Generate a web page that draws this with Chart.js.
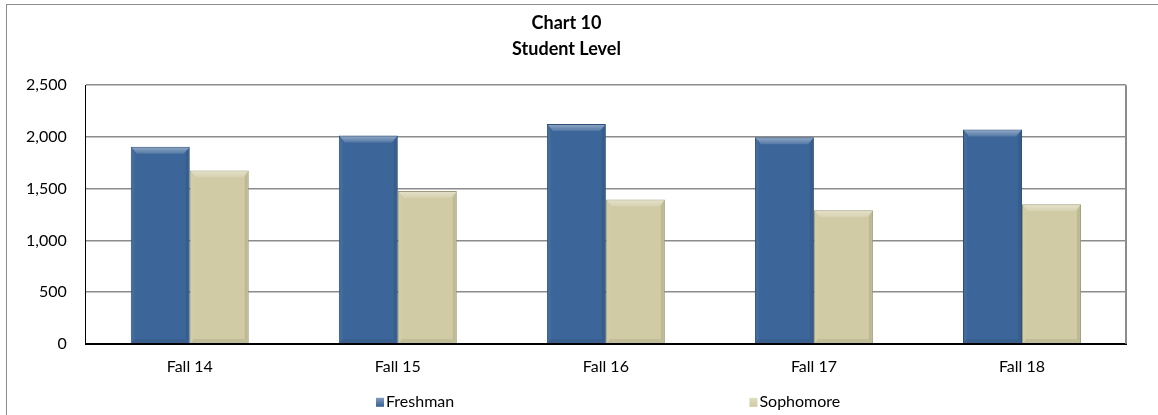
<!DOCTYPE html>
<html>
<head>
<meta charset="utf-8">
<script src="https://cdn.jsdelivr.net/npm/chart.js@4.4.0/dist/chart.umd.min.js"></script>
<style>
  html, body { margin: 0; padding: 0; background: #fff; overflow: hidden; }
  #frame {
    position: absolute; left: 6px; top: 4px;
    width: 1164px; height: 420px;
    border: 1px solid #8c8c8c; box-sizing: border-box; background: #fff;
  }
  #box { position: absolute; left: 0; top: 0; width: 1162px; height: 418px; }
</style>
</head>
<body>
<div id="frame"><div id="box"><canvas id="myChart"></canvas></div></div>
<script>
var categories = ["Fall 14", "Fall 15", "Fall 16", "Fall 17", "Fall 18"];
var freshman = [1905, 2013, 2126, 1996, 2071];
var sophomore = [1676, 1478, 1394, 1291, 1349];
var seriesNames = ["Freshman", "Sophomore"];
var yTicks = [0, 500, 1000, 1500, 2000, 2500];

var FONT = "Lato, 'Open Sans', sans-serif";

function shade(hex, amt) {
    var n = parseInt(hex.slice(1), 16);
    var r = (n >> 16) & 255, g = (n >> 8) & 255, b = n & 255;
    function f(c) { return Math.max(0, Math.min(255, Math.round(amt > 0 ? c + (255 - c) * amt : c * (1 + amt)))); }
    return "rgb(" + f(r) + "," + f(g) + "," + f(b) + ")";
}

// bevel look on the bars, drawn over the elements Chart.js laid out
var bevel = {
    id: "bevel",
    afterDatasetsDraw: function (chart) {
        var c = chart.ctx;
        chart.data.datasets.forEach(function (ds, di) {
            var base = ds.backgroundColor;
            chart.getDatasetMeta(di).data.forEach(function (bar) {
                var l = bar.x - bar.width / 2, r = bar.x + bar.width / 2;
                var t = bar.y, b = bar.base, e = 7, s = 4;
                c.save();
                // left side
                c.fillStyle = shade(base, 0.04);
                c.beginPath();
                c.moveTo(l + 1, t + 1); c.lineTo(l + s, t + e); c.lineTo(l + s, b - s); c.lineTo(l + 1, b);
                c.closePath(); c.fill();
                // right side
                c.fillStyle = shade(base, -0.09);
                c.beginPath();
                c.moveTo(r - 1, t + 1); c.lineTo(r - s, t + e); c.lineTo(r - s, b - s); c.lineTo(r - 1, b);
                c.closePath(); c.fill();
                // bottom
                c.fillStyle = shade(base, -0.07);
                c.beginPath();
                c.moveTo(l + 1, b); c.lineTo(l + s, b - s); c.lineTo(r - s, b - s); c.lineTo(r - 1, b);
                c.closePath(); c.fill();
                // top bevel
                var g = c.createLinearGradient(0, t, 0, t + e);
                g.addColorStop(0, shade(base, 0.45));
                g.addColorStop(1, shade(base, 0.12));
                c.fillStyle = g;
                c.beginPath();
                c.moveTo(l + 1, t + 1); c.lineTo(r - 1, t + 1); c.lineTo(r - s - 2, t + e); c.lineTo(l + s + 2, t + e);
                c.closePath(); c.fill();
                c.restore();
            });
        });
    }
};

// right border of plot area + spread legend like the original
var frameAndLegend = {
    id: "frameAndLegend",
    beforeDatasetsDraw: function (chart) {
        var a = chart.chartArea, c = chart.ctx;
        c.save();
        c.strokeStyle = "#8c8c8c";
        c.lineWidth = 2;
        c.beginPath();
        c.moveTo(a.right, a.top); c.lineTo(a.right, a.bottom);
        c.stroke();
        c.restore();
    },
    afterDraw: function (chart) {
        var a = chart.chartArea, c = chart.ctx;
        var pos = [0.279, 0.638];
        var y = a.bottom + 57;
        c.save();
        c.font = "16px " + FONT;
        c.textBaseline = "middle";
        chart.data.datasets.forEach(function (ds, i) {
            var x = a.left + pos[i] * (a.right - a.left);
            var g = c.createLinearGradient(x, y - 4, x, y + 5);
            g.addColorStop(0, shade(ds.backgroundColor, 0.4));
            g.addColorStop(1, ds.backgroundColor);
            c.fillStyle = g;
            c.fillRect(x, y - 3, 8, 9);
            c.fillStyle = "#000";
            c.fillText(ds.label, x + 10, y + 1);
        });
        c.restore();
    }
};

var ctx = document.getElementById("myChart");
var myChart = new Chart(ctx, {
    type: "bar",
    data: {
        labels: categories,
        datasets: [
            { label: seriesNames[0], data: freshman, backgroundColor: "#3c6699", borderColor: "#2c4e78", borderWidth: 1 },
            { label: seriesNames[1], data: sophomore, backgroundColor: "#d0cba4", borderColor: "#9e9878", borderWidth: 1 }
        ]
    },
    options: {
        responsive: true,
        maintainAspectRatio: false,
        animation: false,
        categoryPercentage: 0.567,
        barPercentage: 1.0,
        layout: { padding: { left: 0, right: 43, top: 0, bottom: 42 } },
        plugins: {
            legend: { display: false },
            tooltip: { enabled: false },
            title: {
                display: true,
                text: ["Chart 10", "Student Level"],
                color: "#000",
                font: { family: FONT, size: 18, weight: "bold", lineHeight: 1.45 },
                padding: { top: 5, bottom: 23 }
            }
        },
        scales: {
            x: {
                grid: { display: false },
                border: { display: true, color: "#000", width: 2 },
                ticks: { color: "#000", font: { family: FONT, size: 16 }, padding: 5 }
            },
            y: {
                min: 0,
                max: 2500,
                afterBuildTicks: function (axis) {
                    axis.ticks = yTicks.map(function (v) { return { value: v }; });
                },
                grid: { color: "#8c8c8c", lineWidth: 1.5, drawTicks: false },
                border: { display: true, color: "#000", width: 1 },
                ticks: {
                    color: "#000",
                    font: { family: FONT, size: 16 },
                    padding: 19,
                    callback: function (v) { return v.toLocaleString("en-US"); }
                }
            }
        }
    },
    plugins: [bevel, frameAndLegend]
});
</script>
</body>
</html>
